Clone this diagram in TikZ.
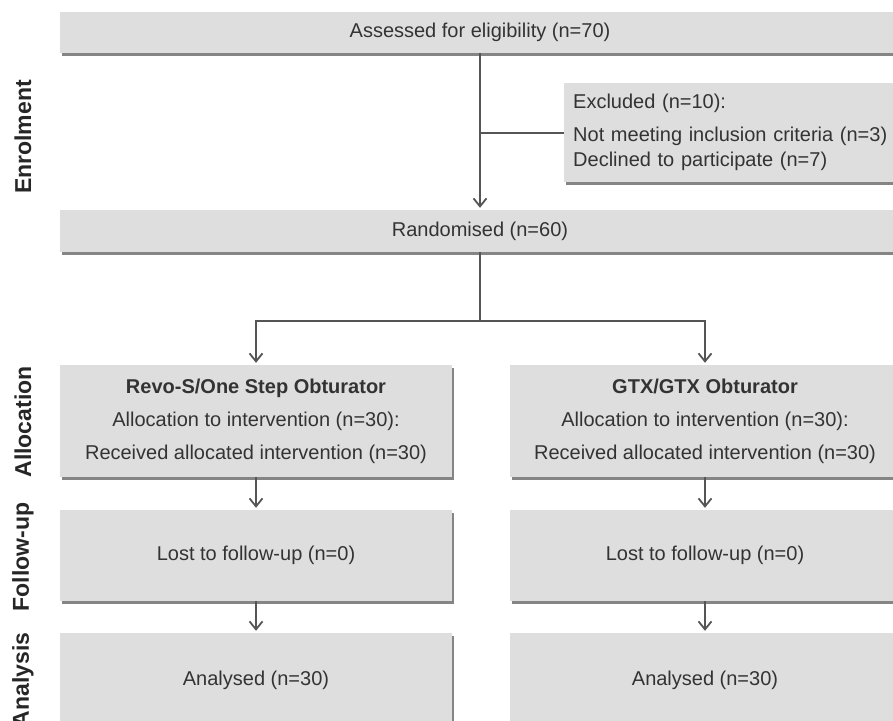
\documentclass[tikz,border=0pt]{standalone}
\usepackage{fontspec}
\setmainfont{Liberation Sans}
\usepackage{tikz}
\usetikzlibrary{arrows.meta}
\usetikzlibrary{shadows}
\usetikzlibrary{positioning,calc}
\definecolor{boxgray}{HTML}{DEDEDE}
\definecolor{shadegray}{HTML}{858585}
\definecolor{linegray}{HTML}{555555}
\definecolor{txtgray}{HTML}{333333}
\tikzset{link/.style={draw=linegray,line width=2pt},
  flow/.style={link,->,>={Straight Barb[length=8pt,width=13pt,line width=1.8pt]},shorten >=2pt}
}

\begin{document}
\begin{tikzpicture}[x=1pt,y=-1pt]
	\tikzstyle{Box}=[rectangle,fill=boxgray,inner sep=0pt,text=txtgray,align=center,font=\fontsize{20}{25}\selectfont,drop shadow={shadow xshift=1.5pt,shadow yshift=-2.5pt,fill=shadegray,opacity=1}]
	\tikzstyle{Stage}=[rotate=90,inner sep=0pt,font=\bfseries\fontsize{23}{27}\selectfont,text=black!85]

	\useasboundingbox (0,0) rectangle (893,720);

	\def\cx {480}
	\def\lx {256}
	\def\rx {705}

	% enrolment
	\node [Box,minimum width=840pt,minimum height=41pt] (assess) at (\cx,32.5) {Assessed for eligibility (n=70)};
	\node [Box,anchor=north west,minimum width=336pt,minimum height=99pt,text width=318pt,align=left] (excl) at (564,83)
		{Excluded (n=10):\\[8pt]Not meeting inclusion criteria (n=3)\\Declined to participate (n=7)};
	\node [Box,minimum width=840pt,minimum height=42pt] (rand) at (\cx,231) {Randomised (n=60)};

	% allocation
	\node [Box,minimum width=392pt,minimum height=112pt] (allocL) at (\lx,421)
		{\textbf{Revo-S/One Step Obturator}\\[8pt]Allocation to intervention (n=30):\\[8pt]Received allocated intervention (n=30)};
	\node [Box,minimum width=390pt,minimum height=112pt] (allocR) at (\rx,421)
		{\textbf{GTX/GTX Obturator}\\[8pt]Allocation to intervention (n=30):\\[8pt]Received allocated intervention (n=30)};

	% follow-up and analysis
	\node [Box,minimum width=392pt,minimum height=91pt] (lostL) at (\lx,555.5) {Lost to follow-up (n=0)};
	\node [Box,minimum width=390pt,minimum height=91pt] (lostR) at (\rx,555.5) {Lost to follow-up (n=0)};
	\node [Box,minimum width=392pt,minimum height=94pt] (analL) at (\lx,680) {Analysed (n=30)};
	\node [Box,minimum width=390pt,minimum height=94pt] (analR) at (\rx,680) {Analysed (n=30)};

	\foreach \lab/\y in {Enrolment/137,Allocation/422,Follow-up/557,Analysis/680}
	{
		\node [Stage] (st\lab) at (23,\y) {\lab};
	}

	\coordinate (brk) at (assess.south |- excl.west);
	\coordinate (split) at (\cx,321);
	\draw [flow] (assess) -- (rand);
	\draw [link] (brk) -- (excl);
	\draw [link] (rand) -- (split);
	\draw [flow] (split) -| (allocL);
	\draw [flow] (split) -| (allocR);

	\foreach \s in {L,R}
	{
		\draw [flow] (alloc\s) -- (lost\s);
		\draw [flow] (lost\s) -- (anal\s);
	}
\end{tikzpicture}
\end{document}
